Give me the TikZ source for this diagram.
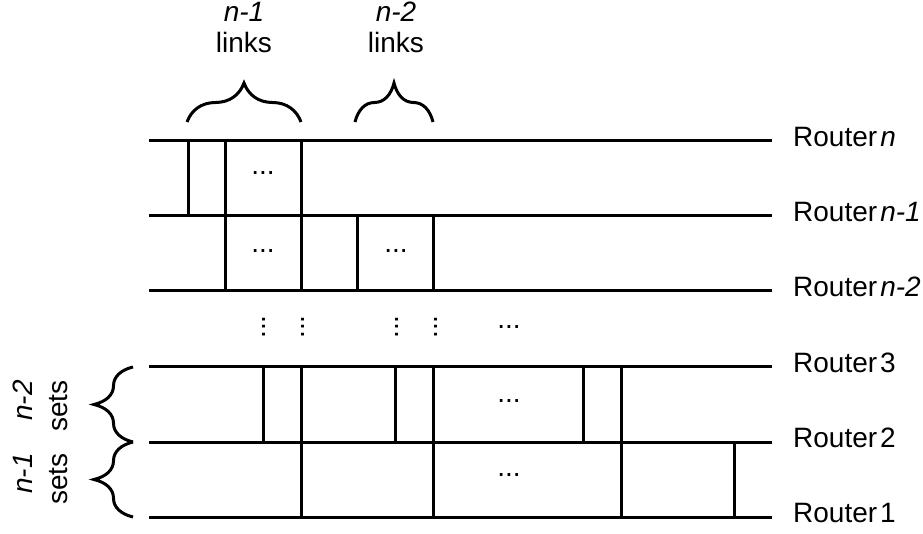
\documentclass[tikz,border=0pt]{standalone}
\usepackage{fontspec}
\setmainfont{Liberation Sans}
\usetikzlibrary{positioning,decorations.pathreplacing}

\begin{document}
\begin{tikzpicture}[
        x=1pt, y=1pt,
        bus/.style={line width=3pt},
        link/.style={line width=3pt},
        brc/.style={line width=3pt, decorate, decoration={brace, amplitude=39pt}},
        router/.style={anchor=west, inner sep=0pt, yshift=4pt, font=\fontsize{28}{32}\selectfont},
        lbl/.style={inner sep=0pt, align=center, font=\fontsize{28}{31}\selectfont},
        setlbl/.style={inner sep=0pt, align=right, rotate=90, font=\fontsize{28}{35}\selectfont},
        dots/.style={inner sep=0pt, font=\fontsize{28}{32}\selectfont}
    ]
        \useasboundingbox (0,0) rectangle (923,533);

        % Router buses
        \coordinate (w6) at (149,392);
        \coordinate (w5) at (149,317);
        \coordinate (w4) at (149,242);
        \coordinate (w3) at (149,166);
        \coordinate (w2) at (149,91);
        \coordinate (w1) at (149,16);
        \coordinate[right=623pt of w6] (e6);
        \coordinate[right=623pt of w5] (e5);
        \coordinate[right=623pt of w4] (e4);
        \coordinate[right=623pt of w3] (e3);
        \coordinate[right=623pt of w2] (e2);
        \coordinate[right=623pt of w1] (e1);

        \node[router, right=21pt of e6] (rt6) {Router\hspace{3pt}\textit{n}};
        \node[router, right=21pt of e5] (rt5) {Router\hspace{3pt}\textit{n-1}};
        \node[router, right=21pt of e4] (rt4) {Router\hspace{3pt}\textit{n-2}};
        \node[router, right=21pt of e3] (rt3) {Router\hspace{3pt}3};
        \node[router, right=21pt of e2] (rt2) {Router\hspace{3pt}2};
        \node[router, right=21pt of e1] (rt1) {Router\hspace{3pt}1};

        \draw[bus] (w6) -- (e6);
        \draw[bus] (w5) -- (e5);
        \draw[bus] (w4) -- (e4);
        \draw[bus] (w3) -- (e3);
        \draw[bus] (w2) -- (e2);
        \draw[bus] (w1) -- (e1);

        % Links between neighbouring routers
        \foreach \x in {188,225,301}
            \draw[link] (\x,0 |- w6) -- (\x,0 |- w5);
        \foreach \x in {225,301,357,433}
            \draw[link] (\x,0 |- w5) -- (\x,0 |- w4);
        \foreach \x in {263,301,395,433,583,621}
            \draw[link] (\x,0 |- w3) -- (\x,0 |- w2);
        \foreach \x in {301,433,621,734}
            \draw[link] (\x,0 |- w2) -- (\x,0 |- w1);

        % Omitted links
        \node[dots] (d6) at (263,360) {...};
        \node[dots] (d5a) at (263,282) {...};
        \node[dots] (d5b) at (396,282) {...};
        \node[dots] (d3) at (509,132) {...};
        \node[dots] (d2) at (509,58) {...};
        \node[dots] (dmid) at (509,206) {...};
        \foreach \x in {264,303,397,436}
            \node[dots, rotate=90] at (\x,206) {...};

        % Link counts
        \draw[brc] (187,411) -- (301,411);
        \draw[brc] (355,411) -- (433,411);
        \node[lbl, anchor=south] (lk1) at (244,480) {\textit{n-1}\\links};
        \node[lbl, anchor=south] (lk2) at (396,480) {\textit{n-2}\\links};

        % Link sets
        \draw[brc] (133,91) -- (133,166);
        \draw[brc] (133,16) -- (133,91);
        \node[setlbl, anchor=south] (st2) at (68,127) {\textit{n-2}\\sets};
        \node[setlbl, anchor=south] (st1) at (68,54) {\textit{n-1}\\sets};
    \end{tikzpicture}
\end{document}
